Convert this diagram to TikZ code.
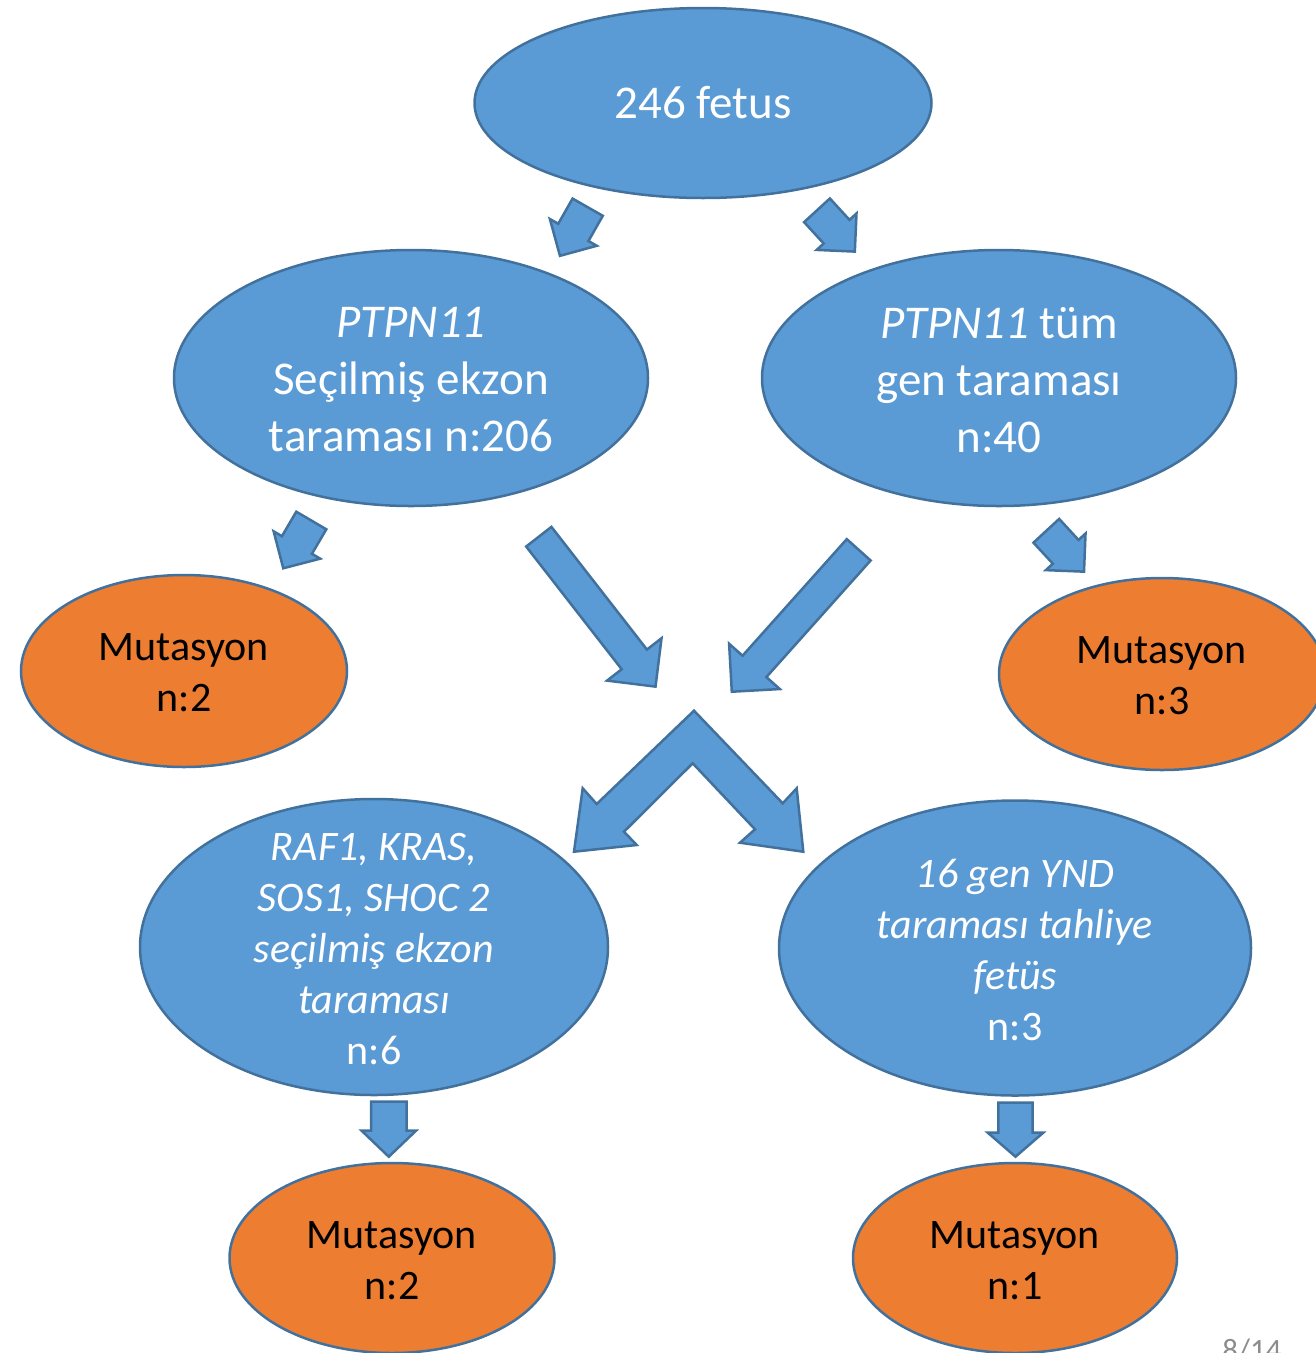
\documentclass[tikz,border=0pt]{standalone}
\usepackage{fontspec}
\setmainfont{Carlito}
\usetikzlibrary{shapes.geometric}
\definecolor{blueF}{HTML}{5B9BD5}
\definecolor{blueD}{HTML}{41719C}
\definecolor{orangeF}{HTML}{ED7D31}
\definecolor{pagegray}{HTML}{8C8C8C}
\newcommand\fsA{\fontsize{47}{57}\selectfont}
\newcommand\fsB{\fontsize{42}{51}\selectfont}
\tikzset{
  blueell/.style={ellipse, draw=blueD, fill=blueF, line width=2.5pt, inner sep=0pt},
  orangeell/.style={ellipse, draw=blueD, fill=orangeF, line width=2.5pt, inner sep=0pt},
  wtext/.style={text=white, align=center, inner sep=0pt},
  btext/.style={text=black, align=center, inner sep=0pt},
  blockarr/.style={draw=blueD, fill=blueF, line width=2.5pt, line join=miter},
}
% #1 base midpoint, #2 angle, #3 length, #4 shaft half width, #5 head half width, #6 head length
\newcommand\barrow[6]{%
  \draw[blockarr, shift={#1}, rotate=#2] (0,-#4) -- ({#3-#6},-#4) -- ({#3-#6},-#5) -- (#3,0)
     -- ({#3-#6},#5) -- ({#3-#6},#4) -- (0,#4) -- cycle;}
\begin{document}
\begin{tikzpicture}[x=1pt, y=-1pt]
\useasboundingbox (0,0) rectangle (1316,1353);
% ellipses
\node[blueell, minimum width=457pt, minimum height=190pt] (top) at (703,103) {};
\node[blueell, minimum width=474pt, minimum height=256pt] (pl) at (411,378) {};
\node[blueell, minimum width=474pt, minimum height=256pt] (pr) at (999,378) {};
\node[orangeell, minimum width=326pt, minimum height=192pt] (ml) at (184,671) {};
\node[orangeell, minimum width=326pt, minimum height=192pt] (mr) at (1162,674) {};
\node[blueell, minimum width=468pt, minimum height=296pt] (raf) at (374,947) {};
\node[blueell, minimum width=472pt, minimum height=295pt] (ynd) at (1015,948) {};
\node[orangeell, minimum width=325pt, minimum height=190pt] (mbl) at (392,1258) {};
\node[orangeell, minimum width=324pt, minimum height=190pt] (mbr) at (1015,1258) {};
% texts (y grows downwards in this picture)
\node[wtext, font=\fsA] (ttop) at (top) {246 fetus};
\node[wtext, font=\fsA] (tpl) at ([yshift=-2pt]pl.center) {\textit{PTPN11}\\Seçilmiş ekzon\\taraması n:206};
\node[wtext, font=\fsA] (tpr) at ([yshift=-2pt]pr.center) {\textit{PTPN11} tüm\\gen taraması\\n:40};
\node[btext, font=\fsB] (tml) at ([yshift=-2pt]ml.center) {Mutasyon\\n:2};
\node[btext, font=\fsB] (tmr) at ([yshift=-2pt]mr.center) {Mutasyon\\n:3};
\node[wtext, font=\fsB] (traf) at ([yshift=-2pt]raf.center) {\textit{RAF1, KRAS,}\\\textit{SOS1, SHOC 2}\\\textit{seçilmiş ekzon}\\\textit{taraması}\\n:6};
\node[wtext, font=\fsB] (tynd) at ([yshift=-2pt]ynd.center) {\textit{16 gen YND}\\\textit{taraması tahliye}\\\textit{fetüs}\\n:3};
\node[btext, font=\fsB] (tmbl) at ([yshift=-3pt]mbl.center) {Mutasyon\\n:2};
\node[btext, font=\fsB] (tmbr) at ([yshift=-3pt]mbr.center) {Mutasyon\\n:1};
% block arrows
\barrow{(587.7,207.2)}{240.3}{56}{17.4}{27}{27}
\barrow{(817,210.3)}{-47.5}{56}{17.5}{27}{27}
\barrow{(311.3,520.5)}{239.6}{55.4}{17.4}{27}{27}
\barrow{(1046.3,530.8)}{-47.3}{55.6}{17.5}{27}{27}
\barrow{(538.8,536.7)}{-52.1}{190}{16}{34.5}{34.5}
\barrow{(858.7,549.8)}{228.2}{190.4}{16}{34}{34}
\barrow{(388.8,1101.7)}{-90}{55}{17.8}{27.2}{26}
\barrow{(1015.5,1102.7)}{-90}{54}{17.2}{27.7}{24}
\draw[blockarr] (694,710.7) -- (596.7,804) -- (582.7,788.3) -- (574,851.7) -- (636.7,845)
  -- (624,831.7) -- (692.7,763.3) -- (755,829.3) -- (740,842.7) -- (803.3,851.7)
  -- (796.7,788.3) -- (782.7,803.3) -- cycle;
% page number (cut off at the lower edge, as in the reference)
\node[text=pagegray, font=\fontsize{31}{37}\selectfont, anchor=base, inner sep=0pt] (pg) at (1252,1360) {8/14};
\end{tikzpicture}
\end{document}
